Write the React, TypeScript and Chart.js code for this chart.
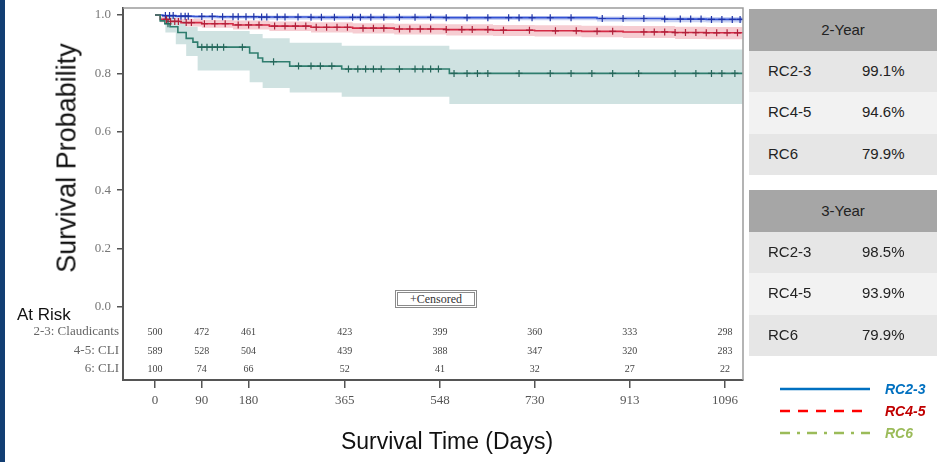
import React, { useEffect, useRef } from "react";
import { Chart, registerables } from "chart.js";

Chart.register(...registerables);

// ---- axis ticks ----
const xTicks = [0, 90, 180, 365, 548, 730, 913, 1096];
const yTicks = [0, 0.2, 0.4, 0.6, 0.8, 1.0];

// ---- at-risk table ----
const riskLabels = ["2-3: Claudicants", "4-5: CLI", "6: CLI"];
const riskRC23 = [500, 472, 461, 423, 399, 360, 333, 298];
const riskRC45 = [589, 528, 504, 439, 388, 347, 320, 283];
const riskRC6 = [100, 74, 66, 52, 41, 32, 27, 22];

// ---- survival table ----
const groupNames = ["RC2-3", "RC4-5", "RC6"];
const twoYear = ["99.1%", "94.6%", "79.9%"];
const threeYear = ["98.5%", "93.9%", "79.9%"];

// ---- RC2-3 (blue) ----
const rc23Days = [0, 15, 40, 75, 120, 200, 300, 420, 560, 700, 850, 980, 1060, 1130];
const rc23Surv = [1.0, 0.998, 0.996, 0.995, 0.994, 0.993, 0.992, 0.992, 0.991, 0.991, 0.988, 0.986, 0.985, 0.985];
const rc23Upper = [1.0, 1.0, 1.0, 0.999, 0.999, 0.998, 0.998, 0.998, 0.997, 0.997, 0.995, 0.994, 0.993, 0.993];
const rc23Lower = [1.0, 0.994, 0.99, 0.988, 0.987, 0.985, 0.984, 0.984, 0.983, 0.982, 0.978, 0.975, 0.974, 0.974];
const rc23Censor = [20, 28, 35, 50, 58, 64, 90, 110, 130, 150, 160, 175, 190, 205, 215, 235, 250, 275, 300, 320, 345, 380, 395, 415, 440, 470, 500, 530, 560, 600, 640, 680, 700, 725, 760, 800, 860, 900, 940, 980, 1010, 1030, 1050, 1070, 1090, 1110, 1125];

// ---- RC4-5 (red) ----
const rc45Days = [0, 10, 25, 50, 90, 150, 220, 300, 380, 460, 560, 650, 730, 820, 900, 1000, 1060, 1130];
const rc45Surv = [1.0, 0.985, 0.978, 0.974, 0.97, 0.966, 0.962, 0.958, 0.955, 0.952, 0.95, 0.948, 0.946, 0.944, 0.942, 0.94, 0.939, 0.939];
const rc45Upper = [1.0, 0.995, 0.99, 0.987, 0.984, 0.981, 0.978, 0.975, 0.972, 0.97, 0.968, 0.966, 0.965, 0.963, 0.962, 0.96, 0.959, 0.959];
const rc45Lower = [1.0, 0.975, 0.966, 0.961, 0.956, 0.95, 0.945, 0.94, 0.937, 0.933, 0.93, 0.928, 0.926, 0.924, 0.921, 0.918, 0.917, 0.917];
const rc45Censor = [22, 30, 38, 45, 60, 70, 95, 115, 135, 160, 180, 200, 230, 250, 270, 290, 310, 330, 350, 370, 400, 420, 440, 470, 490, 510, 530, 560, 590, 610, 640, 670, 720, 770, 810, 850, 880, 940, 960, 980, 1000, 1020, 1040, 1060, 1080, 1100, 1120];

// ---- RC6 (teal) ----
const rc6Days = [0, 10, 19, 29, 44, 60, 73, 82, 182, 198, 207, 259, 359, 566, 1130];
const rc6Surv = [1.0, 0.98, 0.97, 0.96, 0.94, 0.92, 0.907, 0.89, 0.87, 0.853, 0.84, 0.825, 0.815, 0.8, 0.8];
const rc6BandDays = [0, 20, 40, 60, 82, 182, 207, 259, 359, 566, 1130];
const rc6Upper = [1.0, 0.995, 0.98, 0.96, 0.945, 0.935, 0.92, 0.905, 0.895, 0.882, 0.882];
const rc6Lower = [1.0, 0.94, 0.9, 0.86, 0.81, 0.77, 0.75, 0.735, 0.72, 0.695, 0.695];
const rc6Censor = [25, 90, 100, 110, 120, 132, 168, 228, 276, 300, 318, 340, 372, 390, 405, 420, 435, 470, 500, 515, 530, 545, 575, 600, 620, 640, 700, 760, 800, 840, 880, 930, 1000, 1040, 1070, 1090, 1115];

const pts = (d: number[], v: number[]) => d.map((x, i) => ({ x, y: v[i] }));
const stepAt = (d: number[], v: number[], t: number) => {
  let k = 0;
  for (let i = 0; i < d.length; i++) if (d[i] <= t) k = i;
  return v[k];
};
const censorPts = (c: number[], d: number[], v: number[]) => c.map((t) => ({ x: t, y: stepAt(d, v, t) }));

const riskRows = [riskRC23, riskRC45, riskRC6];
const riskOffsets = [48, 29, 11];

const framePlugin = {
  id: "frameAndRisk",
  afterDraw(chart: any) {
    const { ctx, chartArea, scales } = chart;
    const { left, top, right, bottom } = chartArea;
    ctx.save();
    ctx.strokeStyle = "#9c9c9c";
    ctx.lineWidth = 1.5;
    ctx.beginPath();
    ctx.moveTo(left, top);
    ctx.lineTo(right, top);
    ctx.lineTo(right, bottom);
    ctx.stroke();
    ctx.fillStyle = "#444";
    ctx.textBaseline = "middle";
    ctx.textAlign = "center";
    ctx.font = '10px "Liberation Serif"';
    riskRows.forEach((row, r) => {
      row.forEach((v, i) => {
        ctx.fillText(String(v), scales.x.getPixelForValue(xTicks[i]), bottom - riskOffsets[r]);
      });
    });
    ctx.textAlign = "right";
    ctx.font = '13px "Liberation Serif"';
    ctx.fillStyle = "#666";
    riskLabels.forEach((lab, r) => ctx.fillText(lab, left - 4, bottom - riskOffsets[r]));
    ctx.restore();
  },
};

function KMChart() {
  const ref = useRef<HTMLCanvasElement>(null);
  useEffect(() => {
    if (!ref.current) return;
    const band = (data: any[], color: string, fillTarget: any) => ({
      type: "line",
      data,
      stepped: true,
      borderWidth: 0,
      pointRadius: 0,
      backgroundColor: color,
      borderColor: "transparent",
      fill: fillTarget,
      order: 10,
    });
    const line = (data: any[], color: string, dash: number[] = []) => ({
      type: "line",
      data,
      stepped: true,
      borderWidth: 1.6,
      borderColor: color,
      borderDash: dash,
      pointRadius: 0,
      fill: false,
      order: 2,
    });
    const cens = (data: any[], color: string) => ({
      type: "scatter",
      data,
      pointStyle: "cross",
      pointRadius: 3.5,
      borderWidth: 1.2,
      borderColor: color,
      backgroundColor: color,
      order: 1,
    });
    const chart = new Chart(ref.current, {
      type: "line",
      data: {
        datasets: [
          band(pts(rc6BandDays, rc6Upper), "#cfe2e1", "+1"),
          band(pts(rc6BandDays, rc6Lower), "transparent", false),
          band(pts(rc45Days, rc45Upper), "#f6cdd2", "+1"),
          band(pts(rc45Days, rc45Lower), "transparent", false),
          band(pts(rc23Days, rc23Upper), "#c9d2f3", "+1"),
          band(pts(rc23Days, rc23Lower), "transparent", false),
          line(pts(rc6Days, rc6Surv), "#2f7d6e"),
          line(pts(rc45Days, rc45Surv), "#d42a45"),
          line(pts(rc23Days, rc23Surv), "#3452d4"),
          cens(censorPts(rc6Censor, rc6Days, rc6Surv), "#25665a"),
          cens(censorPts(rc45Censor, rc45Days, rc45Surv), "#b0203a"),
          cens(censorPts(rc23Censor, rc23Days, rc23Surv), "#2035a8"),
        ] as any,
      },
      options: {
        animation: false,
        responsive: false,
        events: [],
        layout: { padding: { top: 8, right: 194, left: 0, bottom: 0 } },
        plugins: { legend: { display: false }, tooltip: { enabled: false } },
        scales: {
          x: {
            type: "linear",
            min: -61.5,
            max: 1130.6,
            afterBuildTicks: (s: any) => {
              s.ticks = xTicks.map((v) => ({ value: v }));
            },
            afterFit: (s: any) => {
              s.height = 82;
              s.paddingLeft = 0;
              s.paddingRight = 0;
            },
            grid: { drawOnChartArea: false, drawTicks: true, tickLength: 8, color: "#555", lineWidth: 1.5 },
            border: { display: true, color: "#555", width: 2 },
            ticks: {
              autoSkip: false,
              maxRotation: 0,
              padding: 5,
              color: "#555",
              font: { family: "Liberation Serif", size: 13 },
              callback: (v: any) => String(v),
            },
          },
          y: {
            type: "linear",
            min: -0.25,
            max: 1.024,
            afterBuildTicks: (s: any) => {
              s.ticks = yTicks.map((v) => ({ value: v }));
            },
            afterFit: (s: any) => {
              s.width = 123;
              s.paddingTop = 0;
              s.paddingBottom = 0;
            },
            grid: { drawOnChartArea: false, drawTicks: true, tickLength: 6, color: "#555", lineWidth: 1.5 },
            border: { display: true, color: "#555", width: 2 },
            ticks: {
              autoSkip: false,
              padding: 6,
              color: "#777",
              font: { family: "Liberation Serif", size: 13 },
              callback: (v: any) => Number(v).toFixed(1),
            },
          },
        },
      },
      plugins: [framePlugin],
    } as any);
    return () => chart.destroy();
  }, []);
  return <canvas ref={ref} width={937} height={462} style={{ position: "absolute", left: 0, top: 0, width: 937, height: 462 }} />;
}

const cellText: React.CSSProperties = { position: "absolute", fontFamily: "Liberation Sans", fontSize: 15, color: "#222" };

function SurvTable({ top, title, values }: { top: number; title: string; values: string[] }) {
  const rowH = 41.5;
  return (
    <div style={{ position: "absolute", left: 749, top, width: 188 }}>
      <div style={{ height: rowH, background: "#a6a6a6", display: "flex", alignItems: "center", justifyContent: "center", fontFamily: "Liberation Sans", fontSize: 15, color: "#222" }}>
        {title}
      </div>
      {groupNames.map((g, i) => (
        <div key={g} style={{ position: "relative", height: rowH, background: i % 2 === 0 ? "#e6e6e6" : "#f2f2f2" }}>
          <span style={{ ...cellText, left: 19, top: 11 }}>{g}</span>
          <span style={{ ...cellText, left: 113, top: 11 }}>{values[i]}</span>
        </div>
      ))}
    </div>
  );
}

const legendItems = [
  { label: "RC2-3", color: "#0070c0", text: "#0070c0", dash: "solid" },
  { label: "RC4-5", color: "#ff0000", text: "#c00000", dash: "dashed" },
  { label: "RC6", color: "#9bbb59", text: "#9bbb59", dash: "dashdot" },
];

function LegendLine({ color, dash }: { color: string; dash: string }) {
  let d = "";
  if (dash === "dashed") d = "10 8";
  if (dash === "dashdot") d = "10 7 3 7";
  return (
    <svg width={92} height={6} style={{ display: "block" }}>
      <line x1={0} y1={3} x2={90} y2={3} stroke={color} strokeWidth={2.5} strokeDasharray={d || undefined} />
    </svg>
  );
}

export default function App() {
  return (
    <div style={{ position: "fixed", left: 0, top: 0, width: 937, height: 462, background: "#fff", overflow: "hidden" }}>
      <div style={{ position: "absolute", left: 0, top: 0, width: 5, height: 462, background: "#123e73" }} />
      <KMChart />
      <div
        style={{
          position: "absolute",
          left: 67,
          top: 158,
          transform: "translate(-50%, -50%) rotate(-90deg)",
          whiteSpace: "nowrap",
          fontFamily: "Liberation Sans",
          fontSize: 27,
          color: "#111",
        }}
      >
        Survival Probability
      </div>
      <div style={{ position: "absolute", left: 447, top: 441, transform: "translate(-50%, -50%)", whiteSpace: "nowrap", fontFamily: "Liberation Sans", fontSize: 23, color: "#111" }}>
        Survival Time (Days)
      </div>
      <div style={{ position: "absolute", left: 17, top: 305, fontFamily: "Liberation Sans", fontSize: 17, color: "#111", whiteSpace: "nowrap" }}>At Risk</div>
      <div
        style={{
          position: "absolute",
          left: 395,
          top: 290,
          width: 82,
          height: 18,
          boxSizing: "border-box",
          border: "3px double #8a8a8a",
          background: "#fff",
          fontFamily: "Liberation Serif",
          fontSize: 12,
          color: "#333",
          display: "flex",
          alignItems: "center",
          justifyContent: "center",
          whiteSpace: "nowrap",
        }}
      >
        +Censored
      </div>
      <SurvTable top={9} title="2-Year" values={twoYear} />
      <SurvTable top={190} title="3-Year" values={threeYear} />
      {legendItems.map((it, i) => (
        <div key={it.label} style={{ position: "absolute", left: 780, top: 379 + i * 22, height: 20, display: "flex", alignItems: "center" }}>
          <LegendLine color={it.color} dash={it.dash} />
          <span style={{ marginLeft: 13, fontFamily: "Liberation Sans", fontWeight: "bold", fontStyle: "italic", fontSize: 14, color: it.text }}>{it.label}</span>
        </div>
      ))}
    </div>
  );
}
